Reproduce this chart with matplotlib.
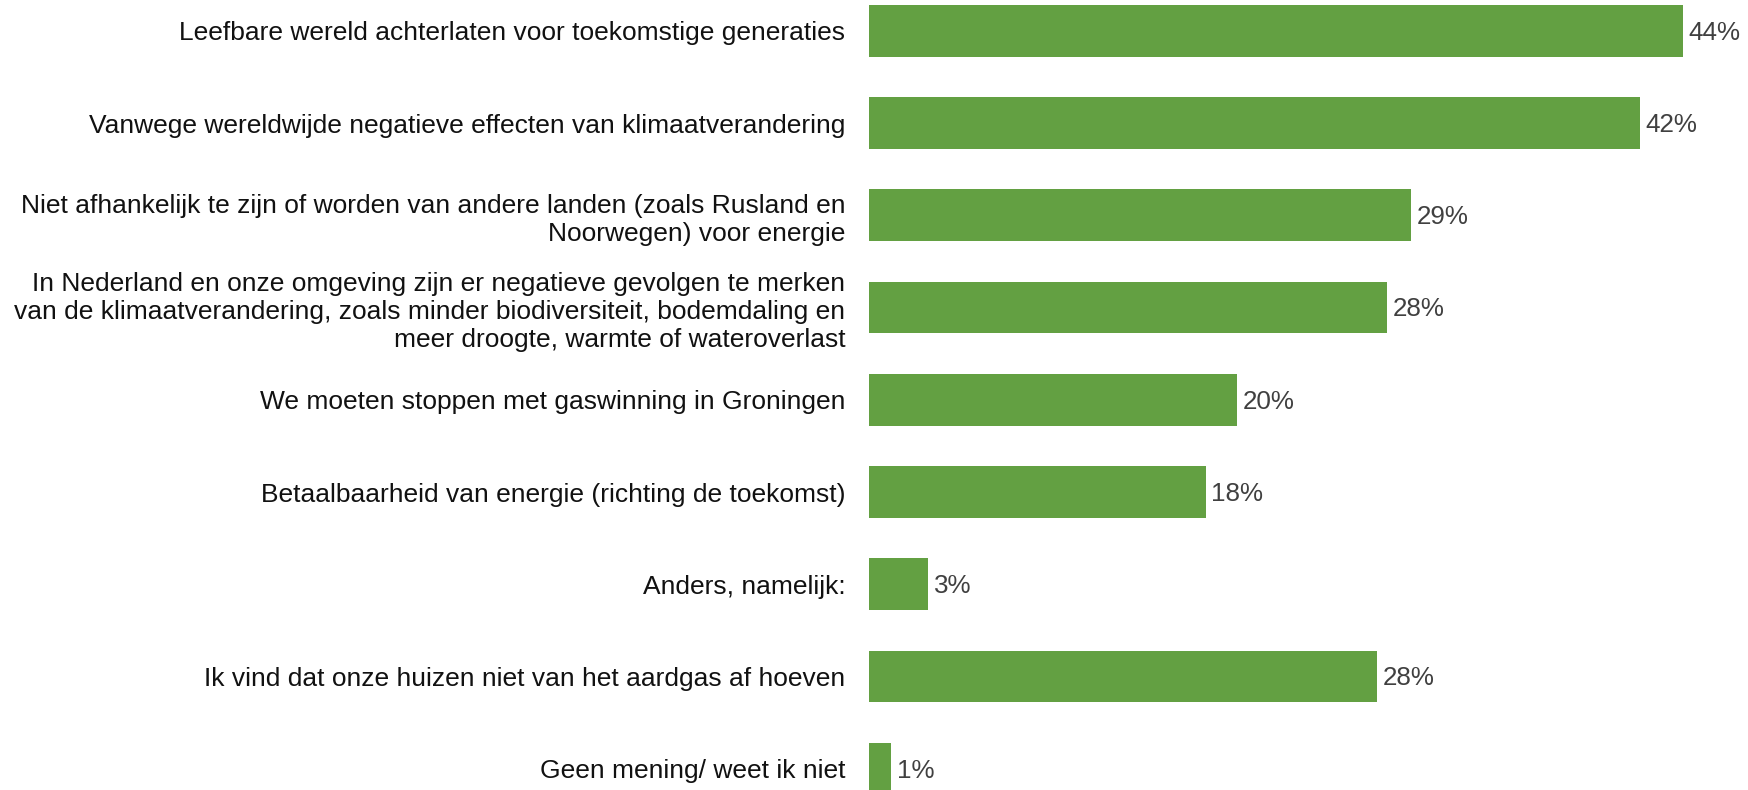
import matplotlib
matplotlib.use("Agg")
import matplotlib.pyplot as plt

plt.rcParams['font.family'] = ['Liberation Sans', 'DejaVu Sans']

categories = [
    "Leefbare wereld achterlaten voor toekomstige generaties",
    "Vanwege wereldwijde negatieve effecten van klimaatverandering",
    "Niet afhankelijk te zijn of worden van andere landen (zoals Rusland en\nNoorwegen) voor energie",
    "In Nederland en onze omgeving zijn er negatieve gevolgen te merken\nvan de klimaatverandering, zoals minder biodiversiteit, bodemdaling en\nmeer droogte, warmte of wateroverlast",
    "We moeten stoppen met gaswinning in Groningen",
    "Betaalbaarheid van energie (richting de toekomst)",
    "Anders, namelijk:",
    "Ik vind dat onze huizen niet van het aardgas af hoeven",
    "Geen mening/ weet ik niet",
]
values = [44.0, 41.7, 29.3, 28.0, 19.9, 18.2, 3.2, 27.5, 1.2]
labels = ["44%", "42%", "29%", "28%", "20%", "18%", "3%", "28%", "1%"]

bar_color = "#63a042"

W, H = 1748, 790
fig = plt.figure(figsize=(W / 100, H / 100), dpi=100)
left = 869 / W
ax = fig.add_axes([left, 0, 1 - left, 1])

y = list(range(len(categories)))
ax.barh(y, values, height=0.56, color=bar_color)

# pixel scale: 18.49 px per percent
ax.set_xlim(0, (W - 869) / 18.49)
ax.set_ylim(8.23, -0.334)

for yi, v, lab in zip(y, values, labels):
    ax.text(v + 0.3, yi + 0.02, lab, va="center", ha="left", fontsize=18.7, color="#404040")

ax.set_yticks(y)
ax.set_yticklabels(categories, fontsize=19, color="#111111", linespacing=1.2)
ax.tick_params(axis="y", length=0, pad=17)
ax.set_xticks([])
for s in ax.spines.values():
    s.set_visible(False)

fig.savefig("out.png", dpi=100)
